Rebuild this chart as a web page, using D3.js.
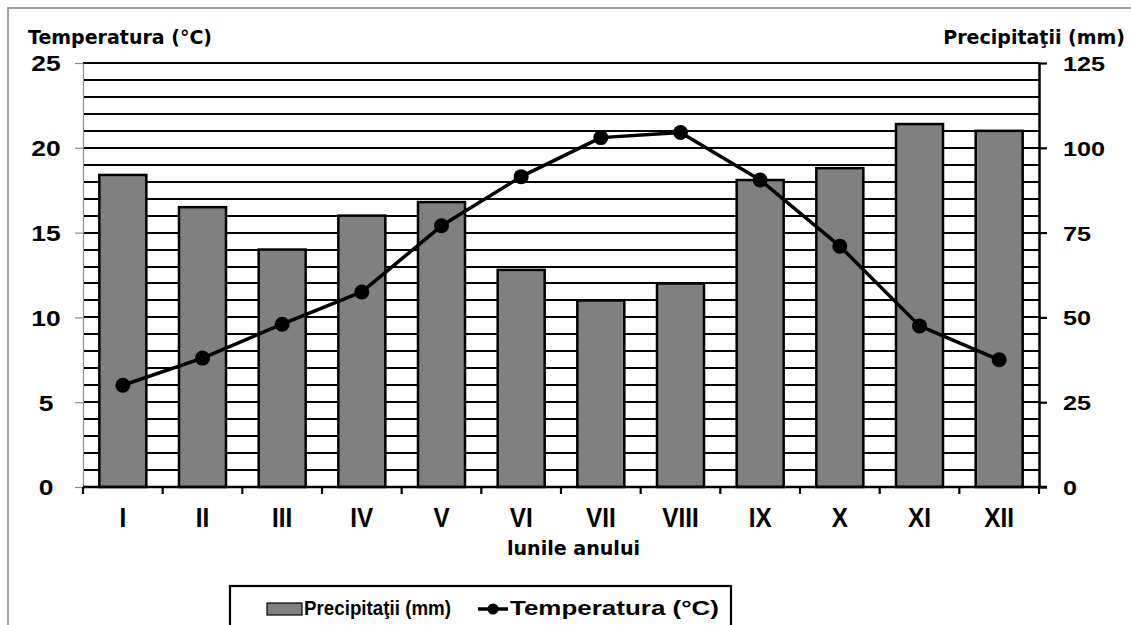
<!DOCTYPE html>
<html>
<head>
<meta charset="utf-8">
<script src="https://cdn.jsdelivr.net/npm/d3@7"></script>
<style>
  html, body { margin: 0; padding: 0; background: #fff; }
  svg { display: block; }
</style>
</head>
<body>
<svg id="chart" width="1131" height="625"></svg>
<script>
// ---- data ----
const months = ["I", "II", "III", "IV", "V", "VI", "VII", "VIII", "IX", "X", "XI", "XII"];
const precipitation = [92, 82.5, 70, 80, 84, 64, 55, 60, 90.5, 94, 107, 105];
const temperature = [6.0, 7.6, 9.6, 11.5, 15.4, 18.3, 20.6, 20.9, 18.1, 14.2, 9.5, 7.5];
const tempTicks = [0, 5, 10, 15, 20, 25];
const precipTicks = [0, 25, 50, 75, 100, 125];

const leftTitle = "Temperatura (°C)";
const rightTitle = "Precipitaţii (mm)";
const xTitle = "lunile anului";

// ---- layout ----
const W = 1131, H = 625;
const L = 83, R = 1039, T = 63, B = 487;

const svg = d3.select("#chart");

// outer frame
svg.append("path")
  .attr("d", `M8,${H + 5} L8,8 L${W + 5},8`)
  .attr("fill", "none").attr("stroke", "#a0a0a0").attr("stroke-width", 2);

const x = d3.scaleBand().domain(months).range([L, R]).paddingInner(0.41).paddingOuter(0.205);
const yT = d3.scaleLinear().domain([0, 25]).range([B, T]);
const yP = d3.scaleLinear().domain([0, 125]).range([B, T]);

// gridlines every 1 °C
svg.append("g").selectAll("line")
  .data(d3.range(1, 26))
  .join("line")
  .attr("x1", L).attr("x2", R)
  .attr("y1", d => Math.round(yT(d))).attr("y2", d => Math.round(yT(d)))
  .attr("stroke", "#000").attr("stroke-width", 2)
  .attr("shape-rendering", "crispEdges");

// bars
svg.append("g").selectAll("rect")
  .data(months.map((m, i) => ({ m, v: precipitation[i] })))
  .join("rect")
  .attr("x", d => x(d.m))
  .attr("width", x.bandwidth())
  .attr("y", d => yP(d.v))
  .attr("height", d => yP(0) - yP(d.v))
  .attr("fill", "#808080")
  .attr("stroke", "#000").attr("stroke-width", 2.5);

// left axis (gray)
const gL = svg.append("g").attr("transform", `translate(${L},0)`)
  .call(d3.axisLeft(yT).tickValues(tempTicks).tickSize(8).tickSizeOuter(0));
gL.select(".domain").attr("stroke", "#8c8c8c").attr("stroke-width", 1.2);
gL.selectAll(".tick line").attr("stroke", "#8c8c8c").attr("stroke-width", 1.2);
gL.selectAll(".tick text")
  .attr("x", null).attr("dy", "0.36em")
  .attr("text-anchor", "middle")
  .attr("transform", "translate(-37,0) scale(1.2,1)")
  .attr("font-family", "Liberation Sans, Arial, sans-serif")
  .attr("font-weight", "bold").attr("font-size", 22).attr("fill", "#000");

// right axis (black)
const gR = svg.append("g").attr("transform", `translate(${R},0)`)
  .call(d3.axisRight(yP).tickValues(precipTicks).tickSize(8).tickSizeOuter(0));
gR.select(".domain").attr("stroke", "#000").attr("stroke-width", 2.5);
gR.selectAll(".tick line").attr("stroke", "#000").attr("stroke-width", 2.2);
gR.selectAll(".tick text")
  .attr("x", null).attr("dy", "0.36em")
  .attr("text-anchor", "start")
  .attr("transform", "translate(24,0) scale(1.2,1)")
  .attr("font-family", "Liberation Sans, Arial, sans-serif")
  .attr("font-weight", "bold").attr("font-size", 21).attr("fill", "#000");

// x axis labels
const gX = svg.append("g").attr("transform", `translate(0,${B})`)
  .call(d3.axisBottom(x).tickSize(0).tickPadding(0));
gX.select(".domain").remove();
gX.selectAll(".tick text")
  .attr("y", null).attr("dy", null)
  .attr("transform", "translate(0,40) scale(0.9,1)")
  .attr("font-family", "Liberation Sans, Arial, sans-serif")
  .attr("font-weight", "bold").attr("font-size", 27).attr("fill", "#000");

// x axis line + boundary ticks
svg.append("line")
  .attr("x1", L).attr("x2", R + 8).attr("y1", B).attr("y2", B)
  .attr("stroke", "#000").attr("stroke-width", 2.5);
const gap = (x.step() - x.bandwidth()) / 2;
const bounds = months.map(m => x(m) - gap).concat([x(months[months.length - 1]) + x.bandwidth() + gap]);
svg.append("g").selectAll("line")
  .data(bounds)
  .join("line")
  .attr("x1", d => d).attr("x2", d => d)
  .attr("y1", B).attr("y2", B + 7)
  .attr("stroke", "#000").attr("stroke-width", 2.2);

// temperature line
const line = d3.line()
  .x((d, i) => x(months[i]) + x.bandwidth() / 2)
  .y(d => yT(d));
svg.append("path")
  .datum(temperature)
  .attr("d", line)
  .attr("fill", "none").attr("stroke", "#000").attr("stroke-width", 3.5)
  .attr("stroke-linejoin", "round");
svg.append("g").selectAll("circle")
  .data(temperature)
  .join("circle")
  .attr("cx", (d, i) => x(months[i]) + x.bandwidth() / 2)
  .attr("cy", d => yT(d))
  .attr("r", 7.5)
  .attr("fill", "#000");

// titles
const titleFont = "DejaVu Sans, Verdana, sans-serif";
svg.append("text")
  .attr("x", 28).attr("y", 44)
  .attr("font-family", titleFont).attr("font-weight", "bold").attr("font-size", 19)
  .text(leftTitle);
svg.append("text")
  .attr("x", 1125).attr("y", 44)
  .attr("text-anchor", "end")
  .attr("font-family", titleFont).attr("font-weight", "bold").attr("font-size", 19)
  .text(rightTitle);
svg.append("text")
  .attr("x", 507).attr("y", 555)
  .attr("font-family", titleFont).attr("font-weight", "bold").attr("font-size", 19)
  .attr("textLength", 133).attr("lengthAdjust", "spacingAndGlyphs")
  .text(xTitle);

// legend
const lg = svg.append("g");
lg.append("rect")
  .attr("x", 230).attr("y", 586).attr("width", 501).attr("height", 60)
  .attr("fill", "#fff").attr("stroke", "#000").attr("stroke-width", 2.2);
lg.append("rect")
  .attr("x", 267).attr("y", 603).attr("width", 35).attr("height", 12)
  .attr("fill", "#808080").attr("stroke", "#000").attr("stroke-width", 1.2);
lg.append("text")
  .attr("x", 304).attr("y", 615)
  .attr("font-family", "Liberation Sans, Arial, sans-serif").attr("font-weight", "bold").attr("font-size", 19.5)
  .attr("textLength", 147).attr("lengthAdjust", "spacingAndGlyphs")
  .text(rightTitle);
lg.append("line")
  .attr("x1", 478).attr("x2", 508).attr("y1", 609).attr("y2", 609)
  .attr("stroke", "#000").attr("stroke-width", 3.5);
lg.append("circle").attr("cx", 493).attr("cy", 609).attr("r", 5.5).attr("fill", "#000");
lg.append("text")
  .attr("x", 510).attr("y", 615)
  .attr("font-family", "Liberation Sans, Arial, sans-serif").attr("font-weight", "bold").attr("font-size", 19.5)
  .attr("textLength", 209).attr("lengthAdjust", "spacingAndGlyphs")
  .text(leftTitle);
</script>
</body>
</html>
